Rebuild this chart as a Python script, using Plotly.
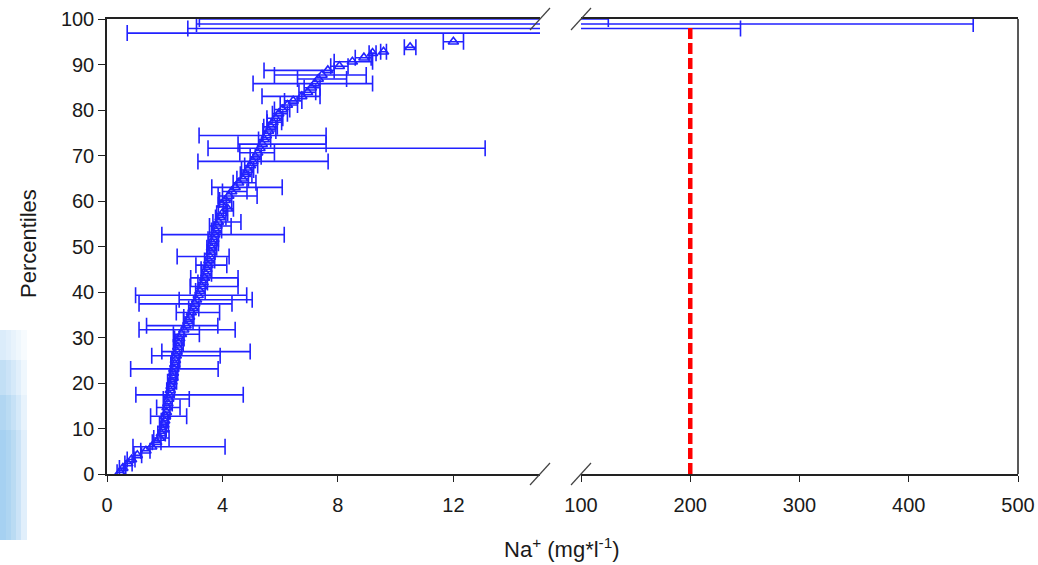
import plotly.graph_objects as go

# ---------------------------------------------------------------------------
# Sodium concentrations (mg/l) ranked as percentiles, with uncertainty ranges
# ---------------------------------------------------------------------------
pct = [0.4, 1.3, 2.3, 3.2, 4.1, 5.1, 6.0, 7.0, 7.9, 8.9,
       9.8, 10.8, 11.7, 12.7, 13.6, 14.6, 15.5, 16.5, 17.4, 18.4,
       19.3, 20.3, 21.2, 22.2, 23.1, 24.1, 25.0, 26.0, 26.9, 27.9,
       28.8, 29.8, 30.7, 31.7, 32.6, 33.6, 34.5, 35.5, 36.4, 37.4,
       38.3, 39.3, 40.2, 41.2, 42.1, 43.1, 44.0, 45.0, 45.9, 46.9,
       47.8, 48.8, 49.7, 50.7, 51.6, 52.6, 53.5, 54.5, 55.4, 56.4,
       57.3, 58.3, 59.2, 60.2, 61.1, 62.1, 63.0, 64.0, 64.9, 65.9,
       66.8, 67.8, 68.7, 69.7, 70.6, 71.6, 72.5, 73.5, 74.4, 75.4,
       76.3, 77.3, 78.2, 79.2, 80.1, 81.1, 82.0, 83.0, 83.9, 84.9,
       85.8, 86.8, 87.7, 88.7, 89.6, 90.6, 91.5, 92.5, 92.8, 93.8, 95.0]

na = [0.45, 0.55, 0.72, 0.85, 1.05, 1.35, 1.55, 1.72, 1.82, 1.88,
      1.93, 1.97, 2.0, 2.03, 2.06, 2.08, 2.11, 2.14, 2.16, 2.19,
      2.22, 2.25, 2.28, 2.3, 2.32, 2.35, 2.37, 2.4, 2.42, 2.45,
      2.48, 2.52, 2.58, 2.66, 2.74, 2.8, 2.86, 2.92, 2.98, 3.04,
      3.1, 3.16, 3.22, 3.28, 3.33, 3.38, 3.42, 3.46, 3.5, 3.53,
      3.56, 3.59, 3.62, 3.66, 3.7, 3.73, 3.77, 3.81, 3.86, 3.92,
      4.0, 4.18, 3.98, 4.1, 4.22, 4.32, 4.44, 4.56, 4.7, 4.8,
      4.88, 4.97, 5.05, 5.14, 5.22, 5.3, 5.38, 5.45, 5.52, 5.6,
      5.68, 5.75, 5.84, 5.95, 6.08, 6.25, 6.45, 6.75, 6.95, 7.08,
      7.2, 7.32, 7.45, 7.65, 8.05, 8.5, 8.9, 9.2, 9.58, 10.5, 12.0]

err_minus = [0.1, 0.12, 0.1, 0.15, 0.12, 0.18, 0.65, 0.15, 0.2, 0.12,
             0.1, 0.15, 0.12, 0.52, 0.1, 0.36, 0.14, 0.19, 1.16, 0.12,
             0.1, 0.15, 0.12, 0.1, 1.5, 0.14, 0.12, 0.85, 0.52, 0.15,
             0.12, 0.18, 0.28, 1.55, 1.37, 0.15, 0.2, 0.52, 0.15, 1.93,
             0.6, 2.17, 0.15, 0.4, 0.18, 0.48, 0.14, 0.2, 0.42, 0.15,
             1.13, 0.12, 0.16, 0.14, 0.2, 1.83, 0.15, 0.26, 0.19, 0.16,
             0.2, 0.15, 0.12, 0.2, 0.37, 0.32, 0.81, 0.19, 0.2, 0.18,
             0.22, 0.2, 1.9, 0.18, 0.62, 1.8, 0.84, 0.2, 2.33, 0.2,
             0.25, 0.2, 0.3, 0.22, 0.28, 0.25, 0.3, 1.38, 0.3, 0.25,
             2.14, 0.72, 1.65, 2.21, 0.3, 0.63, 0.3, 0.12, 0.1, 0.2, 0.35]

err_plus = [0.12, 0.1, 0.15, 0.12, 0.15, 0.14, 2.54, 0.15, 0.33, 0.14,
            0.12, 0.16, 0.1, 0.73, 0.12, 0.45, 0.15, 0.71, 2.56, 0.14,
            0.12, 0.16, 0.1, 0.15, 1.53, 0.12, 0.15, 1.52, 2.54, 0.14,
            0.16, 0.15, 0.62, 1.78, 1.1, 0.18, 0.15, 0.98, 0.2, 1.29,
            1.93, 1.68, 0.18, 1.26, 0.15, 1.16, 0.2, 0.16, 0.65, 0.2,
            0.67, 0.15, 0.18, 0.2, 0.16, 2.41, 0.2, 0.49, 0.78, 0.2,
            0.18, 0.2, 0.15, 0.22, 0.98, 0.53, 1.63, 0.6, 0.2, 0.22,
            0.2, 0.25, 2.61, 0.2, 0.58, 7.8, 2.21, 0.22, 2.07, 0.25,
            0.22, 0.3, 0.25, 0.3, 0.25, 0.35, 0.3, 0.63, 0.28, 0.3,
            2.0, 0.98, 1.53, 0.22, 0.3, 0.7, 0.25, 0.12, 0.1, 0.2, 0.35]

# highest samples: central values fall in the axis break, ranges reach far right
top_pct = [96.9, 97.9, 98.9, 100.0]
top_na = [24.0, 45.0, 70.0, 35.0]
top_lo = [0.7, 2.8, 3.1, 3.2]
top_hi = [60.0, 246.0, 459.0, 125.0]

# drinking-water limit for sodium
limit_na = [200, 200]
limit_pct = [0, 98]

left_ticks = [0, 4, 8, 12]
right_ticks = [100, 200, 300, 400, 500]
y_ticks = [0, 10, 20, 30, 40, 50, 60, 70, 80, 90, 100]

BLUE = "#2222ff"
AXIS = "#222222"
FONT = "Liberation Sans, Arial, sans-serif"

W, H = 1038, 565
ML, MR, MT, MB = 107, 20, 19, 91
PW, PH = W - ML - MR, H - MT - MB


def px_x(px):
    return (px - ML) / PW


def px_y(py):
    return (H - MB - py) / PH


LEFT_END = px_x(540)
RIGHT_START = px_x(581)

top_plus = [h - v for h, v in zip(top_hi, top_na)]
top_minus = [v - l for v, l in zip(top_na, top_lo)]

marker = dict(symbol="triangle-up-open", size=9, color=BLUE,
              line=dict(color=BLUE, width=1.6))

fig = go.Figure()

fig.add_trace(go.Scatter(
    x=na, y=pct, mode="markers", marker=marker, xaxis="x", yaxis="y",
    cliponaxis=False,
    error_x=dict(type="data", symmetric=False, array=err_plus,
                 arrayminus=err_minus, color=BLUE, thickness=1.6, width=8),
    showlegend=False))

for xa in ("x", "x2"):
    fig.add_trace(go.Scatter(
        x=top_na, y=top_pct, mode="markers", marker=marker,
        xaxis=xa, yaxis="y",
        error_x=dict(type="data", symmetric=False, array=top_plus,
                     arrayminus=top_minus, color=BLUE, thickness=1.6, width=8),
        showlegend=False))

fig.add_trace(go.Scatter(
    x=limit_na, y=limit_pct, mode="lines", xaxis="x2", yaxis="y",
    line=dict(color="#ff0000", width=4.5, dash="11px,4px"),
    showlegend=False))

axis_common = dict(showline=True, linecolor=AXIS, linewidth=1.5, mirror=True,
                   ticks="outside", ticklen=6, tickwidth=1.2, tickcolor=AXIS,
                   showgrid=False, zeroline=False, automargin=False,
                   tickfont=dict(family=FONT, size=20, color="#1a1a1a"))

fig.update_layout(
    width=W, height=H, autosize=False,
    margin=dict(l=ML, r=MR, t=MT, b=MB, autoexpand=False),
    paper_bgcolor="white", plot_bgcolor="rgba(0,0,0,0)",
    xaxis=dict(domain=[0, LEFT_END], range=[0, 15], tickvals=left_ticks,
               anchor="y", ticklabelstandoff=6, **axis_common),
    xaxis2=dict(domain=[RIGHT_START, 1], range=[100, 500], tickvals=right_ticks,
                anchor="y", ticklabelstandoff=6, **axis_common),
    yaxis=dict(domain=[0, 1], range=[0, 100], tickvals=y_ticks, anchor="x",
               **{**axis_common, "mirror": False, "ticklen": 7}),
)

shapes = []
# right frame edge
shapes.append(dict(type="line", xref="paper", yref="paper", x0=1, x1=1, y0=0, y1=1,
                   line=dict(color=AXIS, width=1.5)))
# axis-break marks
dx, dy = 10 / PW, 11 / PH
for cx in (LEFT_END, RIGHT_START):
    for cy in (0, 1):
        shapes.append(dict(type="line", xref="paper", yref="paper",
                           x0=cx - dx, x1=cx + dx, y0=cy - dy, y1=cy + dy,
                           line=dict(color="#444444", width=1.2)))
# soft pale blue band along the left page edge (stacked translucent strips)
for x1 in (6, 11, 16, 21, 27):
    for y0 in (330, 360, 395, 430):
        shapes.append(dict(type="rect", xref="paper", yref="paper", layer="below",
                           x0=px_x(0), x1=px_x(x1), y0=px_y(540), y1=px_y(y0),
                           line=dict(width=0), fillcolor="rgba(150,195,235,0.075)"))
fig.update_layout(shapes=shapes)

fig.add_annotation(text="Percentiles", xref="paper", yref="paper",
                   x=px_x(28), y=px_y(244), textangle=-90, showarrow=False,
                   xanchor="center", yanchor="middle",
                   font=dict(family=FONT, size=22, color="#1a1a1a"))
fig.add_annotation(text="Na<sup>+</sup> (mg*l<sup>-1</sup>)", xref="paper", yref="paper",
                   x=px_x(562), y=px_y(548), showarrow=False,
                   xanchor="center", yanchor="middle",
                   font=dict(family=FONT, size=22, color="#1a1a1a"))

fig.write_html("out.html")
